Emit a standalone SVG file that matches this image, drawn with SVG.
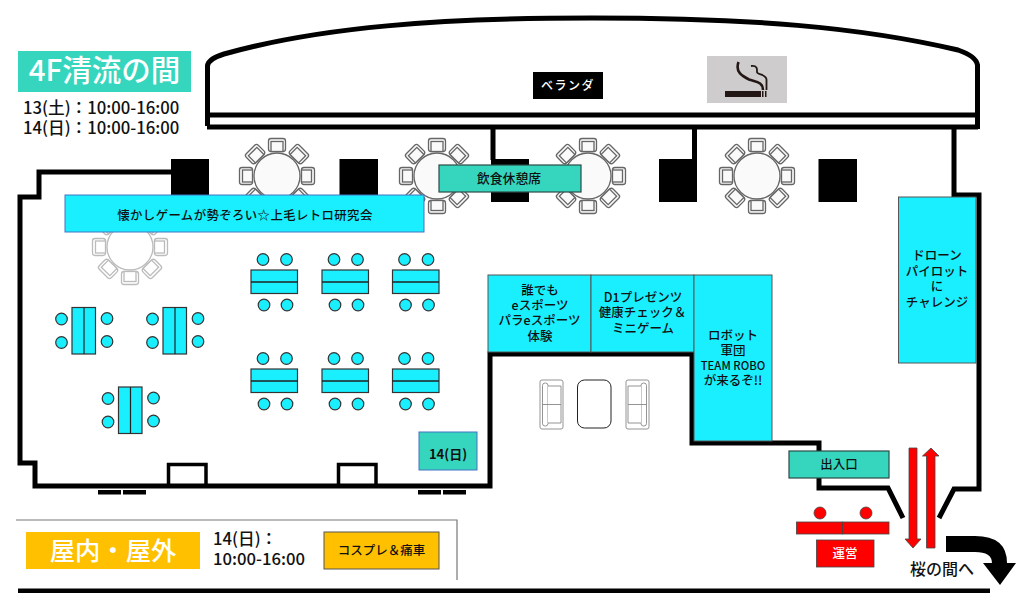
<svg xmlns="http://www.w3.org/2000/svg" xmlns:xlink="http://www.w3.org/1999/xlink" width="1024" height="607" viewBox="0 0 1024 607">
<style>
text{font-family:"Noto Sans CJK JP","Noto Sans",sans-serif;text-anchor:middle;fill:#111;font-weight:500}
.st{text-anchor:start}
.w{fill:#fff}
.b{font-weight:700}
.wall{fill:none;stroke:#000;stroke-width:5}
.thin{fill:none;stroke:#000;stroke-width:3.5}
.pil{fill:#000}
.cy{fill:#19EFFF;stroke:#555;stroke-width:1}
.cb{fill:#19EFFF;stroke:#4472C4;stroke-width:1}
.tl{fill:#35D6BD;stroke:#2b4a46;stroke-width:1.2}
.tb{fill:#19EFFF;stroke:#333;stroke-width:1.2}
.red{fill:#f00;stroke:#444;stroke-width:.8}
.am{fill:#FFC000}
.sf{fill:#fff;stroke:#888;stroke-width:.9}
</style>
<defs>
<g id="chair"><rect x="-8.5" y="-6.5" width="17" height="13" rx="2.5"/><rect x="-6" y="-3.5" width="12" height="10"/></g>
<g id="rt">
<circle r="23"/>
<use xlink:href="#chair" transform="translate(0,-31)"/>
<use xlink:href="#chair" transform="rotate(45) translate(0,-31)"/>
<use xlink:href="#chair" transform="rotate(90) translate(0,-31)"/>
<use xlink:href="#chair" transform="rotate(135) translate(0,-31)"/>
<use xlink:href="#chair" transform="rotate(180) translate(0,-31)"/>
<use xlink:href="#chair" transform="rotate(225) translate(0,-31)"/>
<use xlink:href="#chair" transform="rotate(270) translate(0,-31)"/>
<use xlink:href="#chair" transform="rotate(315) translate(0,-31)"/>
</g>
<g id="h-table">
<rect class="tb" x="0" y="0" width="46.5" height="23.5"/><path d="M0,12H46.5" stroke="#222" stroke-width="1.6"/>
<circle class="tb" cx="12" cy="-10.5" r="5.8"/><circle class="tb" cx="35.5" cy="-10.5" r="5.8"/>
<circle class="tb" cx="13" cy="35" r="5.8"/><circle class="tb" cx="36" cy="35" r="5.8"/>
</g>
<g id="v-table">
<rect class="tb" x="0" y="0" width="23.5" height="46.5"/><path d="M12,0V46.5" stroke="#222" stroke-width="1.2"/>
<circle class="tb" cx="-10.5" cy="11.5" r="5.8"/><circle class="tb" cx="-10.5" cy="35" r="5.8"/>
<circle class="tb" cx="35" cy="11" r="5.8"/><circle class="tb" cx="35" cy="34" r="5.8"/>
</g>
<g id="sofa"><rect class="sf" x="0" y="0" width="23" height="49" rx="2"/><rect class="sf" x="2.5" y="3" width="5.5" height="43" rx="2.5"/><path class="sf" d="M8,6H21V43H8M8,24.500H21"/><path class="sf" d="M2.500,24.500H8"/></g>
</defs>

<g id="walls">
<path class="wall" d="M207.500,126V66Q208,59 224,54C320,27 440,18 592,18C750,18 860,27 958,50Q976,56 977.500,65V129"/>
<path class="wall" d="M207,115H978M207,127H978"/>
<path class="wall" d="M493,127V160M694.500,127V160"/>
<path class="wall" d="M954,127V195H979V489H954L939,518"/>
<path class="wall" d="M172,172H39V197H20V463H35V486H490V354H692V443H819V488H888L903,518"/>
<path class="thin" d="M168.500,485V464.500H206V485M338.500,485V464.500H376V485"/>
<path d="M98,490h23v4.500h-23zM123,490h23v4.500h-23zM418,490h23v4.500h-23zM443,490h23v4.500h-23z"/>
<rect class="pil" x="171" y="159" width="38" height="43"/>
<rect class="pil" x="339.500" y="159" width="38.500" height="43"/>
<rect class="pil" x="491" y="159" width="38" height="43"/>
<rect class="pil" x="659" y="159" width="38" height="43"/>
<rect class="pil" x="818.500" y="159" width="38.500" height="43"/>
<path d="M18,588.500H990V593H18z"/>
<path d="M16,520H457V580" fill="none" stroke="#777" stroke-width="1.200"/>
</g>

<g id="tables" fill="none" stroke="#666" stroke-width="1.300">
<use xlink:href="#rt" transform="translate(277,176)" fill="#fafafa"/>
<use xlink:href="#rt" transform="translate(437,176)" fill="#fafafa"/>
<use xlink:href="#rt" transform="translate(588,176)" fill="#fafafa"/>
<use xlink:href="#rt" transform="translate(757,176)" fill="#fafafa"/>
<use xlink:href="#rt" transform="translate(130,247)" fill="#fff" stroke="#bbb"/>
</g>
<g id="seats">
<use xlink:href="#h-table" x="251" y="270"/><use xlink:href="#h-table" x="322" y="270"/><use xlink:href="#h-table" x="392.500" y="270"/>
<use xlink:href="#h-table" x="251" y="369"/><use xlink:href="#h-table" x="322" y="369"/><use xlink:href="#h-table" x="392.500" y="369"/>
<use xlink:href="#v-table" x="72" y="307.500"/><use xlink:href="#v-table" x="163" y="307.500"/><use xlink:href="#v-table" x="118.500" y="387"/>
</g>
<g id="lounge">
<use xlink:href="#sofa" x="540" y="380"/>
<use xlink:href="#sofa" transform="translate(649,380) scale(-1,1)"/>
<rect x="577.500" y="380" width="33.500" height="48" rx="7" fill="#fff" stroke="#222" stroke-width="1"/>
</g>

<g id="smoking">
<rect x="707" y="56" width="80" height="47" fill="#CFCCCD"/>
<rect x="725" y="91" width="36" height="6" fill="#231815"/><rect x="762" y="91" width="1.500" height="6" fill="#231815"/><rect x="765" y="91" width="1.500" height="6" fill="#231815"/>
<path d="M738.500,62C735,72 742,76 749,79.500C756,82 763,82 763,90" fill="none" stroke="#231815" stroke-width="2.600"/>
<path d="M751,66C758,65 757,70 757,72C757,75 767,74 766.500,80V90" fill="none" stroke="#231815" stroke-width="1.800"/>
</g>

<g id="title-4f">
<rect x="18" y="51" width="173" height="41" fill="#35D6BD"/>
<text class="w" x="104.500" y="81" font-size="29.500">4F清流の間</text>
</g>
<g id="hours">
<text class="st" x="23" y="114" font-size="16.700">13(土)：10:00-16:00</text>
<text class="st" x="23" y="133.500" font-size="16.700">14(日)：10:00-16:00</text>
</g>
<g id="veranda"><rect x="533" y="72" width="70" height="27"/><text class="w" x="568" y="90" font-size="12" letter-spacing="1.500">ベランダ</text></g>
<g id="retro"><rect class="cb" x="65" y="195" width="359" height="37"/><text x="245" y="220" font-size="12.400" letter-spacing=".4">懐かしゲームが勢ぞろい☆上毛レトロ研究会</text></g>
<g id="rest"><rect class="tl" x="439" y="165" width="142" height="27"/><text x="509" y="183" font-size="12.800">飲食休憩席</text></g>
<g id="esports"><rect class="cy" x="488" y="275" width="103" height="77"/>
<text x="540" y="295" font-size="12.500">誰でも</text><text x="540" y="309.500" font-size="12.500">eスポーツ</text><text x="539.500" y="325" font-size="12.500">パラeスポーツ</text><text x="540" y="341" font-size="12.500">体験</text></g>
<g id="d1"><rect class="cy" x="591" y="275" width="103" height="77"/>
<text x="643" y="302" font-size="12.500">D1プレゼンツ</text><text x="642.500" y="317" font-size="12.500">健康チェック＆</text><text x="643" y="333" font-size="12.500">ミニゲーム</text></g>
<g id="robo"><rect class="cy" x="694" y="275" width="78" height="166"/>
<text x="733" y="340" font-size="12.500">ロボット</text><text x="733" y="355" font-size="12.500">軍団</text><text x="733" y="370" font-size="11.300">TEAM ROBO</text><text x="733" y="384.500" font-size="12.500">が来るぞ!!</text></g>
<g id="drone"><rect class="cy" x="898.500" y="197" width="77.500" height="166"/>
<text x="937" y="260" font-size="12.500">ドローン</text><text x="937" y="276" font-size="12.500">パイロット</text><text x="937" y="291" font-size="12.500">に</text><text x="937" y="307" font-size="12.500">チャレンジ</text></g>
<g id="day14"><rect class="cb" x="419" y="432" width="58" height="38" style="fill:#35D6BD"/><text class="b" x="448" y="459" font-size="13">14(日)</text></g>
<g id="entrance"><rect class="tl" x="789" y="451" width="100" height="27"/><text x="839" y="469" font-size="12.500">出入口</text></g>
<g id="staff">
<circle class="red" cx="820" cy="513" r="6"/><circle class="red" cx="866" cy="513" r="6"/>
<rect class="red" x="796.500" y="522" width="46" height="12"/><rect class="red" x="842.500" y="522" width="46.500" height="12"/>
<rect class="red" x="816.500" y="540" width="57.500" height="27"/><text class="w" x="845" y="558" font-size="12.500">運営</text>
</g>
<g id="connectors">
<path class="red" d="M909,448H917V539H921L913,548L905,539H909z"/>
<path class="red" d="M926.500,548V456H922.500L931,448L939,456H935V548z"/>
<path d="M946,536H975Q1007,536 1007,563H1016L1000,585L983,563H992Q992,552 975,552H946z"/>
</g>
<text id="sakura" x="942" y="574.500" font-size="16">桜の間へ</text>
<g id="legend">
<rect x="26" y="532" width="174" height="37" class="am"/>
<text class="w" x="113" y="560" font-size="25.300">屋内・屋外</text>
<text class="st" x="213" y="545" font-size="16.700">14(日)：</text>
<text class="st" x="213" y="565" font-size="16.700">10:00-16:00</text>
<rect x="324" y="532" width="115" height="37" class="am" stroke="#555" stroke-width="1"/>
<text x="381.500" y="555" font-size="12.500">コスプレ＆痛車</text>
</g>
</svg>
